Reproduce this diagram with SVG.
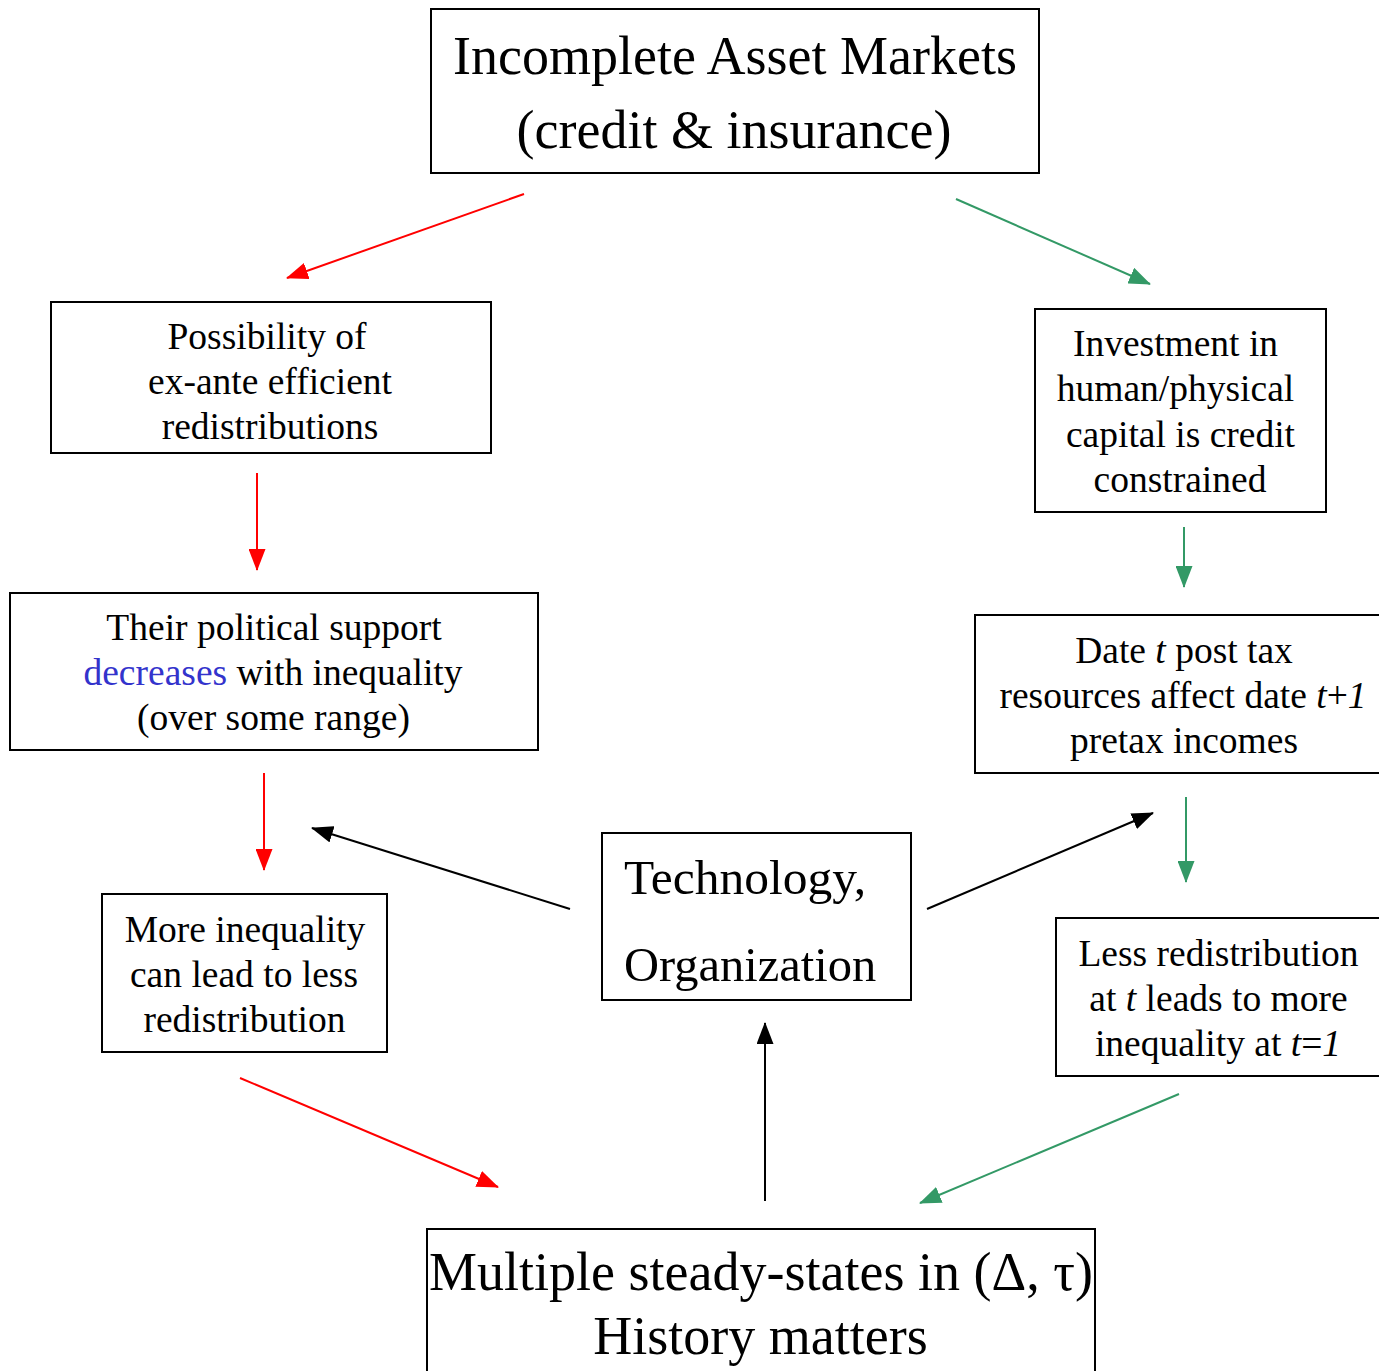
<svg xmlns="http://www.w3.org/2000/svg" width="1379" height="1371" viewBox="0 0 1379 1371">
<style>
.box{fill:#fff;stroke:#000;stroke-width:2}
text{font-family:"Liberation Serif","Times New Roman",serif;fill:#000;text-anchor:middle}
.s{font-size:37.5px}
.b{font-size:54px}
.red{stroke:#ff0000;stroke-width:2;fill:none}
.grn{stroke:#339966;stroke-width:2;fill:none}
.blk{stroke:#000;stroke-width:2;fill:none}
</style>
<defs>
<marker id="ar" viewBox="0 0 22 17" refX="21" refY="8.5" markerWidth="22" markerHeight="17" markerUnits="userSpaceOnUse" orient="auto"><path d="M0,0 L22,8.5 L0,17 z" fill="#ff0000"/></marker>
<marker id="ag" viewBox="0 0 22 17" refX="21" refY="8.5" markerWidth="22" markerHeight="17" markerUnits="userSpaceOnUse" orient="auto"><path d="M0,0 L22,8.5 L0,17 z" fill="#339966"/></marker>
<marker id="ak" viewBox="0 0 22 17" refX="21" refY="8.5" markerWidth="22" markerHeight="17" markerUnits="userSpaceOnUse" orient="auto"><path d="M0,0 L22,8.5 L0,17 z" fill="#000"/></marker>
</defs>
<rect width="1379" height="1371" fill="#fff"/>
<g id="connectors">
<line class="red" x1="524" y1="194" x2="287" y2="278" marker-end="url(#ar)"/>
<line class="red" x1="257" y1="473" x2="257" y2="570" marker-end="url(#ar)"/>
<line class="red" x1="264" y1="773" x2="264" y2="870" marker-end="url(#ar)"/>
<line class="red" x1="240" y1="1078" x2="498" y2="1187" marker-end="url(#ar)"/>
<line class="grn" x1="956" y1="199" x2="1150" y2="284" marker-end="url(#ag)"/>
<line class="grn" x1="1184" y1="527" x2="1184" y2="587" marker-end="url(#ag)"/>
<line class="grn" x1="1186" y1="797" x2="1186" y2="882" marker-end="url(#ag)"/>
<line class="grn" x1="1179" y1="1094" x2="920" y2="1203" marker-end="url(#ag)"/>
<line class="blk" x1="570" y1="909" x2="312" y2="828" marker-end="url(#ak)"/>
<line class="blk" x1="927" y1="909" x2="1153" y2="813" marker-end="url(#ak)"/>
<line class="blk" x1="765" y1="1201" x2="765" y2="1023" marker-end="url(#ak)"/>
</g>
<g id="n-markets">
<rect class="box" x="431" y="9" width="608" height="164"/>
<text class="b" x="735" y="74">Incomplete Asset Markets</text>
<text class="b" x="734" y="148">(credit &amp; insurance)</text>
</g>
<g id="n-possibility">
<rect class="box" x="51" y="302" width="440" height="151"/>
<text class="s" x="267" y="349">Possibility of</text>
<text class="s" x="270" y="394">ex-ante efficient</text>
<text class="s" x="270" y="439">redistributions</text>
</g>
<g id="n-support">
<rect class="box" x="10" y="593" width="528" height="157"/>
<text class="s" x="274" y="640">Their political support</text>
<text class="s" x="273" y="685"><tspan fill="#3333cc">decreases</tspan> with inequality</text>
<text class="s" x="273.5" y="730">(over some range)</text>
</g>
<g id="n-more">
<rect class="box" x="102" y="894" width="285" height="158"/>
<text class="s" x="245" y="942">More inequality</text>
<text class="s" x="244" y="987">can lead to less</text>
<text class="s" x="244.5" y="1032">redistribution</text>
</g>
<g id="n-tech">
<rect class="box" x="602" y="833" width="309" height="167"/>
<text style="font-size:49.5px;text-anchor:start" x="624" y="894">Technology,</text>
<text style="font-size:48.5px;text-anchor:start" x="624" y="981">Organization</text>
</g>
<g id="n-investment">
<rect class="box" x="1035" y="309" width="291" height="203"/>
<text class="s" x="1175.5" y="356">Investment in</text>
<text class="s" x="1175.5" y="401">human/physical</text>
<text class="s" x="1180.5" y="447">capital is credit</text>
<text class="s" x="1180" y="492">constrained</text>
</g>
<g id="n-date">
<rect class="box" x="975" y="615" width="410" height="158"/>
<text class="s" x="1184" y="663">Date <tspan font-style="italic">t</tspan> post tax</text>
<text class="s" x="1183" y="708">resources affect date <tspan font-style="italic">t</tspan>+<tspan font-style="italic">1</tspan></text>
<text class="s" x="1184" y="753">pretax incomes</text>
</g>
<g id="n-less">
<rect class="box" x="1056" y="918" width="330" height="158"/>
<text class="s" x="1218.5" y="966">Less redistribution</text>
<text class="s" x="1218.5" y="1011">at <tspan font-style="italic">t</tspan> leads to more</text>
<text class="s" x="1218" y="1056">inequality at <tspan font-style="italic">t</tspan>=<tspan font-style="italic">1</tspan></text>
</g>
<g id="n-steady">
<rect class="box" x="427" y="1229" width="668" height="150"/>
<text class="b" x="761" y="1290">Multiple steady-states in (Δ, τ)</text>
<text class="b" x="760.5" y="1354">History matters</text>
</g>
</svg>
